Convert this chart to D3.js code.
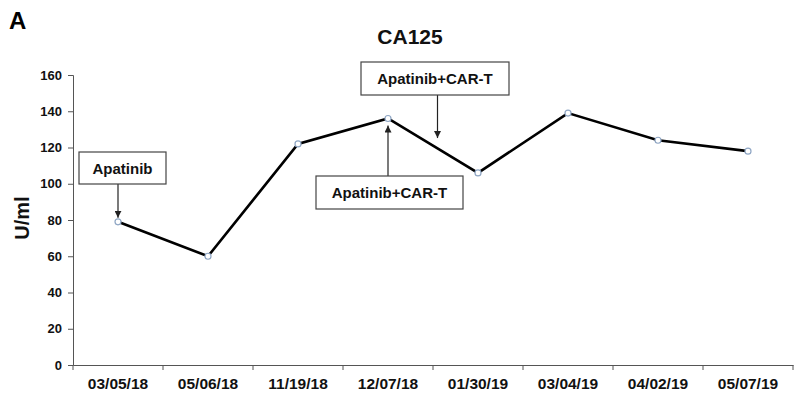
<!DOCTYPE html>
<html>
<head>
<meta charset="utf-8">
<script src="https://cdn.jsdelivr.net/npm/d3@7"></script>
<style>
  body { margin: 0; background: #fff; }
  text { font-family: "Liberation Sans", Arial, sans-serif; }
</style>
</head>
<body>
<svg id="chart" width="800" height="396"></svg>
<script>
const dates = ["03/05/18", "05/06/18", "11/19/18", "12/07/18", "01/30/19", "03/04/19", "04/02/19", "05/07/19"];
const ca125 = [79, 60, 122, 136, 106, 139, 124, 118];
const yTicks = [0, 20, 40, 60, 80, 100, 120, 140, 160];

// treatment call-outs: arrow target in data units (index may be fractional)
const notes = [
  { label: "Apatinib", idx: 0, val: 79, dir: "down" },
  { label: "Apatinib+CAR-T", idx: 3.55, val: 123, dir: "down" },
  { label: "Apatinib+CAR-T", idx: 3, val: 136, dir: "up" }
];

const svg = d3.select("#chart");
const mLeft = 73, mRight = 793, mTop = 75, mBottom = 365;

const x = d3.scaleBand().domain(dates).range([mLeft, mRight]);
const y = d3.scaleLinear().domain([0, 160]).range([mBottom, mTop]);
const xc = (i) => mLeft + x.step() * (i + 0.5);

svg.append("text")
  .attr("x", 9).attr("y", 29)
  .style("font-size", "24px").style("font-weight", "bold")
  .text("A");

svg.append("text")
  .attr("x", 410).attr("y", 44)
  .attr("text-anchor", "middle")
  .style("font-size", "21px").style("font-weight", "bold")
  .attr("fill", "#111")
  .text("CA125");

svg.append("text")
  .attr("transform", `translate(29,218) rotate(-90)`)
  .attr("text-anchor", "middle")
  .style("font-size", "20px").style("font-weight", "bold")
  .attr("fill", "#111")
  .text("U/ml");

// y axis
const yAxis = svg.append("g")
  .attr("transform", `translate(${mLeft},0)`)
  .call(d3.axisLeft(y).tickValues(yTicks).tickSize(5).tickPadding(6));
yAxis.select(".domain").attr("stroke", "#555");
yAxis.selectAll(".tick line").attr("stroke", "#555");
yAxis.selectAll("text")
  .style("font-size", "13px").style("font-weight", "bold")
  .attr("fill", "#111").attr("font-family", null);

// x axis, ticks at band edges
const xAxis = svg.append("g")
  .attr("transform", `translate(0,${mBottom})`)
  .call(d3.axisBottom(x).tickSize(0).tickPadding(13));
xAxis.select(".domain").attr("stroke", "#555");
xAxis.selectAll("text")
  .style("font-size", "15.5px").style("font-weight", "bold")
  .attr("fill", "#111").attr("font-family", null);
xAxis.selectAll(".edge")
  .data(d3.range(dates.length + 1))
  .join("line")
  .attr("x1", (i) => mLeft + x.step() * i)
  .attr("x2", (i) => mLeft + x.step() * i)
  .attr("y1", 0).attr("y2", 5)
  .attr("stroke", "#555");

// line
const line = d3.line()
  .x((d, i) => x(dates[i]) + x.bandwidth() / 2)
  .y((d) => y(d));

svg.append("path")
  .datum(ca125)
  .attr("d", line)
  .attr("fill", "none")
  .attr("stroke", "#000")
  .attr("stroke-width", 2.6);

svg.selectAll(".pt")
  .data(ca125)
  .join("circle")
  .attr("cx", (d, i) => x(dates[i]) + x.bandwidth() / 2)
  .attr("cy", (d) => y(d))
  .attr("r", 3)
  .attr("fill", "#fff")
  .attr("stroke", "#8fa6c4")
  .attr("stroke-width", 1.2);

// arrows + boxes
svg.append("defs").append("marker")
  .attr("id", "arr")
  .attr("viewBox", "0 0 10 10")
  .attr("refX", 10).attr("refY", 5)
  .attr("markerWidth", 7).attr("markerHeight", 7)
  .attr("orient", "auto-start-reverse")
  .attr("markerUnits", "userSpaceOnUse")
  .append("path")
  .attr("d", "M0,0L10,5L0,10Z")
  .attr("fill", "#222");

const boxes = [
  { x0: 79, w: 87, y0: 152, h: 32 },
  { x0: 361, w: 148, y0: 62, h: 33 },
  { x0: 316, w: 147, y0: 176, h: 33 }
];

notes.forEach((n, k) => {
  const b = boxes[k];
  const tx = xc(n.idx);
  const ty = y(n.val);
  const g = svg.append("g");
  g.append("line")
    .attr("x1", tx)
    .attr("x2", tx)
    .attr("y1", n.dir === "down" ? b.y0 + b.h : b.y0)
    .attr("y2", n.dir === "down" ? ty - 4 : ty + 7)
    .attr("stroke", "#222")
    .attr("stroke-width", 1.2)
    .attr("marker-end", "url(#arr)");
  g.append("rect")
    .attr("x", b.x0).attr("y", b.y0)
    .attr("width", b.w).attr("height", b.h)
    .attr("fill", "#fff")
    .attr("stroke", "#444")
    .attr("stroke-width", 1.2);
  g.append("text")
    .attr("x", b.x0 + b.w / 2)
    .attr("y", b.y0 + b.h / 2 + 5.5)
    .attr("text-anchor", "middle")
    .style("font-size", "15px").style("font-weight", "bold")
    .attr("fill", "#111")
    .text(n.label);
});
</script>
</body>
</html>
